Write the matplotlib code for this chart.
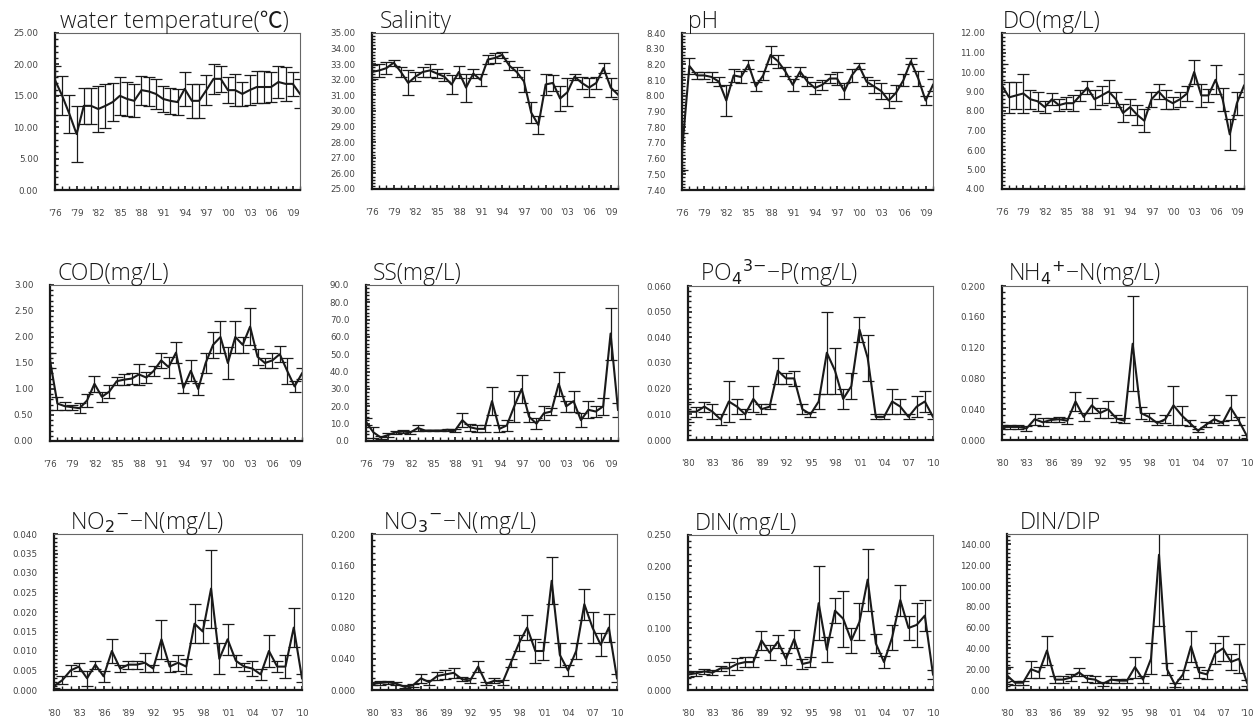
import numpy as np
import matplotlib.pyplot as plt
from matplotlib.ticker import MultipleLocator, FixedLocator

plt.rcParams['font.family'] = ['Open Sans', 'DejaVu Sans']
plt.rcParams['mathtext.fontset'] = 'dejavusans'

# ---------------- yearly series ----------------
years_a = list(range(1976, 2011))
years_b = list(range(1980, 2011))
xlabels_a = ["'76", "'79", "'82", "'85", "'88", "'91", "'94", "'97", "'00", "'03", "'06", "'09"]
xlabels_b = ["'80", "'83", "'86", "'89", "'92", "'95", "'98", "'01", "'04", "'07", "'10"]

temp = [17.5, 15.0, 12.1, 8.9, 13.4, 13.4, 12.9, 13.4, 14.0, 15.0, 14.5, 14.2, 15.9, 15.7, 15.3,
        14.5, 14.2, 14.0, 16.1, 14.2, 14.2, 15.9, 17.7, 17.7, 15.9, 15.9, 15.3, 15.9, 16.4, 16.4,
        16.4, 17.2, 16.9, 16.9, 15.3]
temp_err = [2.3, 3.1, 3.0, 4.5, 2.9, 2.9, 3.6, 3.5, 3.0, 3.0, 2.7, 2.6, 2.3, 2.3, 2.4,
            2.1, 2.1, 2.1, 2.7, 2.7, 2.7, 2.4, 2.4, 2.1, 2.1, 2.6, 1.9, 2.4, 2.5, 2.5,
            2.4, 2.5, 2.7, 1.9, 2.3]

sal = [32.5, 32.6, 32.75, 33.1, 32.5, 31.8, 32.2, 32.5, 32.6, 32.4, 32.2, 31.7, 32.5, 31.5, 32.4,
       32.0, 33.3, 33.4, 33.6, 32.9, 32.5, 31.9, 29.9, 29.1, 31.7, 31.8, 30.8, 31.2, 32.2, 31.8,
       31.5, 31.8, 32.75, 31.5, 31.05]
sal_err = [0.45, 0.4, 0.4, 0.2, 0.3, 0.8, 0.3, 0.35, 0.4, 0.3, 0.25, 0.6, 0.4, 0.9, 0.3,
           0.4, 0.3, 0.3, 0.2, 0.3, 0.3, 0.7, 0.7, 0.6, 0.7, 0.5, 0.8, 0.9, 0.2, 0.4,
           0.6, 0.4, 0.3, 0.6, 0.3]

ph = [7.645, 8.19, 8.13, 8.13, 8.12, 8.09, 7.97, 8.13, 8.12, 8.20, 8.06, 8.13, 8.26, 8.22, 8.155,
      8.07, 8.155, 8.09, 8.05, 8.07, 8.11, 8.11, 8.03, 8.13, 8.19, 8.09, 8.06, 8.03, 7.97, 8.02,
      8.10, 8.22, 8.11, 7.97, 8.07]
ph_err = [0.115, 0.05, 0.02, 0.02, 0.03, 0.03, 0.10, 0.04, 0.04, 0.03, 0.03, 0.03, 0.06, 0.04, 0.03,
          0.04, 0.03, 0.03, 0.04, 0.03, 0.03, 0.04, 0.05, 0.04, 0.02, 0.03, 0.04, 0.05, 0.05, 0.05,
          0.04, 0.02, 0.05, 0.03, 0.04]

do = [9.3, 8.7, 8.8, 8.9, 8.6, 8.5, 8.2, 8.6, 8.3, 8.4, 8.4, 8.8, 9.2, 8.6, 8.8,
      9.0, 8.6, 7.9, 8.2, 7.8, 7.5, 8.6, 9.0, 8.6, 8.4, 8.6, 8.9, 10.0, 8.8, 8.8,
      9.6, 8.6, 6.8, 8.4, 9.3]
do_err = [1.1, 0.8, 0.7, 1.0, 0.5, 0.5, 0.3, 0.3, 0.3, 0.3, 0.4, 0.3, 0.35, 0.5, 0.5,
          0.6, 0.4, 0.45, 0.4, 0.5, 0.6, 0.4, 0.4, 0.5, 0.3, 0.4, 0.4, 0.6, 0.6, 0.35,
          0.75, 0.6, 0.8, 0.6, 0.6]

cod = [1.55, 0.72, 0.67, 0.65, 0.63, 0.78, 1.10, 0.85, 0.95, 1.15, 1.18, 1.20, 1.28, 1.22, 1.35,
       1.55, 1.42, 1.70, 1.02, 1.35, 1.00, 1.50, 1.85, 2.00, 1.50, 2.00, 1.85, 2.20, 1.62, 1.50,
       1.55, 1.67, 1.35, 1.05, 1.30]
cod_err = [0.15, 0.12, 0.08, 0.05, 0.10, 0.12, 0.15, 0.10, 0.12, 0.08, 0.10, 0.10, 0.20, 0.10, 0.10,
           0.15, 0.20, 0.20, 0.10, 0.20, 0.12, 0.20, 0.25, 0.30, 0.30, 0.30, 0.15, 0.35, 0.15, 0.10,
           0.15, 0.15, 0.25, 0.10, 0.10]

ss = [11, 5, 2, 3.5, 5, 5.5, 5, 7.5, 6, 6, 6, 6.5, 6, 12, 8,
      7, 7, 23, 7, 9, 20, 30, 14, 10, 16, 17, 33, 20, 23, 12,
      18, 17, 20, 62, 18]
ss_err = [2, 3, 1, 1, 1, 1, 1, 1.5, 0.5, 0.5, 0.5, 0.5, 1, 4, 2,
          2, 2, 8, 2, 3, 9, 8, 3, 3, 4, 2, 7, 3, 6, 4,
          5, 3, 5, 15, 4]

po4 = [0.011, 0.011, 0.013, 0.011, 0.008, 0.015, 0.013, 0.010, 0.016, 0.012, 0.013, 0.027, 0.024, 0.024,
       0.012, 0.010, 0.015, 0.034, 0.027, 0.016, 0.021, 0.043, 0.032, 0.009, 0.009, 0.015, 0.013,
       0.009, 0.013, 0.015, 0.009]
po4_err = [0.004, 0.002, 0.002, 0.003, 0.002, 0.008, 0.003, 0.002, 0.005, 0.002, 0.001, 0.005, 0.002,
           0.003, 0.002, 0.001, 0.003, 0.016, 0.009, 0.004, 0.005, 0.005, 0.009, 0.001, 0.001, 0.005,
           0.003, 0.001, 0.004, 0.004, 0.001]

nh4 = [0.017, 0.017, 0.017, 0.015, 0.027, 0.023, 0.026, 0.027, 0.025, 0.050, 0.030, 0.045, 0.035,
       0.040, 0.028, 0.025, 0.125, 0.035, 0.030, 0.022, 0.027, 0.045, 0.032, 0.022, 0.012, 0.020,
       0.027, 0.022, 0.042, 0.025, 0.005]
nh4_err = [0.003, 0.003, 0.003, 0.003, 0.007, 0.005, 0.003, 0.003, 0.004, 0.012, 0.005, 0.010, 0.006,
           0.011, 0.004, 0.003, 0.062, 0.008, 0.005, 0.003, 0.005, 0.025, 0.012, 0.004, 0.002, 0.003,
           0.005, 0.003, 0.016, 0.005, 0.002]

no2 = [0.001, 0.0025, 0.005, 0.006, 0.003, 0.0065, 0.0035, 0.010, 0.0055, 0.0065, 0.0065, 0.007,
       0.0055, 0.013, 0.006, 0.007, 0.006, 0.017, 0.015, 0.026, 0.008, 0.013, 0.0075, 0.006, 0.0055,
       0.004, 0.010, 0.006, 0.006, 0.016, 0.003]
no2_err = [0.0005, 0.001, 0.0015, 0.001, 0.002, 0.001, 0.0015, 0.003, 0.001, 0.001, 0.001, 0.0025,
           0.001, 0.005, 0.0015, 0.002, 0.002, 0.005, 0.003, 0.010, 0.004, 0.004, 0.0015, 0.001,
           0.002, 0.0015, 0.004, 0.0015, 0.003, 0.005, 0.001]

no3 = [0.008, 0.009, 0.010, 0.008, 0.004, 0.006, 0.015, 0.010, 0.018, 0.020, 0.022, 0.014, 0.012,
       0.030, 0.008, 0.012, 0.010, 0.035, 0.060, 0.080, 0.050, 0.050, 0.140, 0.045, 0.025, 0.050,
       0.110, 0.080, 0.058, 0.080, 0.015]
no3_err = [0.002, 0.002, 0.002, 0.002, 0.002, 0.002, 0.006, 0.003, 0.005, 0.006, 0.006, 0.003, 0.003,
           0.007, 0.002, 0.003, 0.003, 0.005, 0.010, 0.016, 0.015, 0.012, 0.030, 0.015, 0.007, 0.010,
           0.020, 0.020, 0.015, 0.018, 0.005]

din = [0.025, 0.027, 0.030, 0.028, 0.035, 0.035, 0.042, 0.045, 0.045, 0.080, 0.060, 0.078, 0.050,
       0.082, 0.042, 0.045, 0.140, 0.065, 0.128, 0.115, 0.080, 0.110, 0.178, 0.075, 0.045, 0.085,
       0.145, 0.100, 0.105, 0.120, 0.025]
din_err = [0.004, 0.004, 0.004, 0.004, 0.004, 0.010, 0.010, 0.008, 0.008, 0.015, 0.012, 0.010, 0.010,
           0.015, 0.008, 0.008, 0.060, 0.020, 0.020, 0.045, 0.020, 0.030, 0.050, 0.015, 0.010, 0.020,
           0.025, 0.020, 0.035, 0.025, 0.008]

dindip = [14, 7, 7, 20, 17, 38, 10, 10, 12, 17, 11, 10, 6, 10, 9, 9, 22, 10, 30, 130,
          20, 5, 15, 42, 17, 15, 35, 40, 27, 30, 7]
dindip_err = [8, 2, 2, 8, 5, 14, 3, 3, 3, 4, 3, 3, 2, 3, 2, 2, 10, 3, 15, 68,
              6, 2, 4, 15, 5, 4, 10, 12, 8, 14, 3]

panels = [
    # title, years, values, errors, ylim, major step, label format, title x offset (px)
    ("water temperature(℃)", years_a, temp, temp_err, (0, 25), 5, "%.2f", 5),
    ("Salinity", years_a, sal, sal_err, (25, 35), 1, "%.2f", 8),
    ("pH", years_a, ph, ph_err, (7.4, 8.4), 0.1, "%.2f", 6),
    ("DO(mg/L)", years_a, do, do_err, (4, 12), 1, "%.2f", 1),
    ("COD(mg/L)", years_a, cod, cod_err, (0, 3), 0.5, "%.2f", 8),
    ("SS(mg/L)", years_a, ss, ss_err, (0, 90), 10, "%.1f", 7),
    ("PO$_4$$^{3{-}}$−P(mg/L)", years_b, po4, po4_err, (0, 0.06), 0.01, "%.3f", 12),
    ("NH$_4$$^{+}$−N(mg/L)", years_b, nh4, nh4_err, (0, 0.2), 0.04, "%.3f", 6),
    ("NO$_2$$^{-}$−N(mg/L)", years_b, no2, no2_err, (0, 0.04), 0.005, "%.3f", 16),
    ("NO$_3$$^{-}$−N(mg/L)", years_b, no3, no3_err, (0, 0.2), 0.04, "%.3f", 11),
    ("DIN(mg/L)", years_b, din, din_err, (0, 0.25), 0.05, "%.3f", 7),
    ("DIN/DIP", years_b, dindip, dindip_err, (0, 150), 20, "%.2f", 13),
]

# axes boxes in pixels: left, top, right, bottom
boxes = [
    (55, 33, 300, 190), (372, 33, 618, 189), (682, 33, 933, 190), (1002, 33, 1244, 189),
    (50, 285, 302, 441), (366, 285, 618, 441), (688, 286, 933, 440), (1002, 286, 1247, 440),
    (54, 534, 302, 690), (372, 534, 617, 690), (688, 535, 933, 690), (1007, 534, 1247, 690),
]

W, H = 1256, 716
fig = plt.figure(figsize=(W / 100, H / 100), dpi=100)

for (title, yrs, vals, errs, ylim, step, fmt, tx), (l, t, r, b) in zip(panels, boxes):
    ax = fig.add_axes([l / W, 1 - b / H, (r - l) / W, (b - t) / H])
    ax.errorbar(yrs, vals, yerr=errs, color="#1a1a1a", lw=1.5, ecolor="#1a1a1a",
                elinewidth=0.9, capsize=4, capthick=0.9)
    ax.set_xlim(yrs[0], yrs[-1])
    ax.set_ylim(*ylim)

    yt = np.arange(ylim[0], ylim[1] + step * 0.01, step)
    if title == "DIN/DIP":
        yt = yt[yt <= 140]
    ax.yaxis.set_major_locator(FixedLocator(yt))
    ax.set_yticklabels([fmt % v for v in yt], fontfamily="DejaVu Sans")
    ax.yaxis.set_minor_locator(MultipleLocator(step / 5))

    lab = xlabels_a if yrs[0] == 1976 else xlabels_b
    ax.xaxis.set_major_locator(FixedLocator(yrs[::3]))
    ax.set_xticklabels(lab, fontfamily="DejaVu Sans")
    ax.xaxis.set_minor_locator(FixedLocator(yrs))

    ax.tick_params(axis="both", which="both", direction="in", colors="#1a1a1a",
                   labelcolor="#444444", labelsize=6.3)
    ax.tick_params(axis="y", which="major", length=3, width=1.2, pad=12)
    ax.tick_params(axis="y", which="minor", length=2, width=1.0)
    ax.tick_params(axis="x", which="major", length=3, width=1.2, pad=14)
    ax.tick_params(axis="x", which="minor", length=3, width=1.0)

    for side in ("left", "bottom"):
        ax.spines[side].set_linewidth(1.6)
        ax.spines[side].set_color("#1a1a1a")
    for side in ("top", "right"):
        ax.spines[side].set_linewidth(0.8)
        ax.spines[side].set_color("#666666")

    fam = ["Open Sans", "Noto Sans CJK KR"] if "℃" in title else ["Open Sans", "DejaVu Sans"]
    fig.text((l + tx) / W, 1 - (t - 5) / H, title, fontsize=16.5, fontweight="light",
             family=fam, color="#1a1a1a", ha="left", va="baseline")

fig.savefig("out.png", dpi=100, facecolor="white")
